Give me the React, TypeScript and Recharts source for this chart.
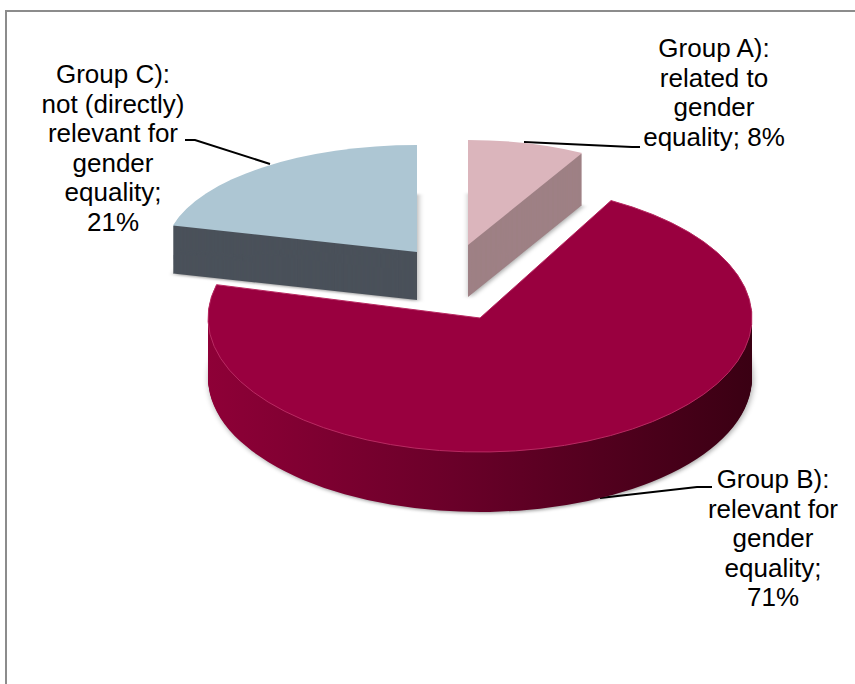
import React from "react";
import { PieChart, Pie, Cell } from "recharts";

// ---- data ----
const categories = ["Group A)", "Group B)", "Group C)"];
const shares = [8, 71, 21];
const labelLines = [
  ["Group A):", "related to", "gender", `equality; ${shares[0]}%`],
  ["Group B):", "relevant for", "gender", "equality;", `${shares[1]}%`],
  ["Group C):", "not (directly)", "relevant for", "gender", "equality;", `${shares[2]}%`],
];

const data = categories.map((name, i) => ({ name, value: shares[i] }));

// ---- layout / style (per slice: projected centre, radii, depth, colours) ----
const geom = [
  { cx: 468, cy: 245, R: 237, r: 105, depth: 52, top: "#dbb5bc", side: "#9e8085", edge: "none" },
  { cx: 480, cy: 318, R: 272, r: 134, depth: 60, top: "#99003f", side: "url(#sideB)", edge: "#b82a62" },
  { cx: 417, cy: 252, R: 252, r: 107, depth: 48, top: "#adc6d3", side: "#4a515a", edge: "none" },
];
const drawOrder = [2, 0, 1];

const labelLayout = [
  { x: 714, y: 57, line: "524,142 632,147 640,147" },
  { x: 773, y: 488, line: "600,498 697,487 712,487" },
  { x: 113, y: 83, line: "185,140 195,140 270,164" },
];
const LINE_H = 29.5;

function layerCss() {
  const rules: string[] = [];
  geom.forEach((g, i) => {
    const k = g.r / g.R;
    for (let d = g.depth; d >= 0; d--) {
      const c = `pl-${i}-${d}`;
      const shadow = d === g.depth ? "filter:drop-shadow(1px 3px 3px rgba(0,0,0,0.35));" : "";
      rules.push(
        `.${c}{transform-box:view-box;transform-origin:0 0;transform:translate(0px,${(
          d + g.cy * (1 - k)
        ).toFixed(3)}px) scale(1,${k.toFixed(5)});${shadow}}`
      );
      rules.push(`.${c} .${c}{transform:none;filter:none;}`);
    }
  });
  return rules.join("\n");
}

function sliceLayers(i: number) {
  const g = geom[i];
  const layers: React.ReactNode[] = [];
  for (let d = g.depth; d >= 0; d--) {
    const isTop = d === 0;
    layers.push(
      <Pie
        key={`s${i}-${d}`}
        className={`pl-${i}-${d}`}
        data={data}
        dataKey="value"
        nameKey="name"
        cx={g.cx}
        cy={g.cy}
        innerRadius={0}
        outerRadius={g.R}
        startAngle={90}
        endAngle={-270}
        stroke="none"
        isAnimationActive={false}
        label={false}
        labelLine={false}
      >
        {data.map((_, j) => (
          <Cell
            key={j}
            fill={j === i ? (isTop ? g.top : g.side) : "none"}
            stroke={j === i && isTop ? g.edge : "none"}
            strokeWidth={1}
            vectorEffect="non-scaling-stroke"
          />
        ))}
      </Pie>
    );
  }
  return layers;
}

export default function App() {
  return (
    <div style={{ position: "absolute", left: 0, top: 0, width: 855, height: 684, background: "#fff" }}>
      <style>{layerCss()}</style>
      <PieChart width={855} height={684} margin={{ top: 0, right: 0, bottom: 0, left: 0 }}>
        <defs>
          <linearGradient id="sideB" x1="0" y1="0" x2="1" y2="0">
            <stop offset="0%" stopColor="#8e0037" />
            <stop offset="45%" stopColor="#6a0029" />
            <stop offset="100%" stopColor="#3a0013" />
          </linearGradient>
        </defs>
        <path d="M6 684 V11 H855" stroke="#8c8c8c" strokeWidth={2} fill="none" />
        {drawOrder.map((i) => sliceLayers(i))}
        {labelLayout.map((l, i) => (
          <g key={`lab${i}`}>
            <polyline points={l.line} fill="none" stroke="#000" strokeWidth={2} />
            <text
              x={l.x}
              y={l.y}
              textAnchor="middle"
              fontFamily="'Liberation Sans', Arial, sans-serif"
              fontSize={26}
              fill="#000"
            >
              {labelLines[i].map((t, n) => (
                <tspan key={n} x={l.x} y={l.y + n * LINE_H}>
                  {t}
                </tspan>
              ))}
            </text>
          </g>
        ))}
      </PieChart>
    </div>
  );
}
